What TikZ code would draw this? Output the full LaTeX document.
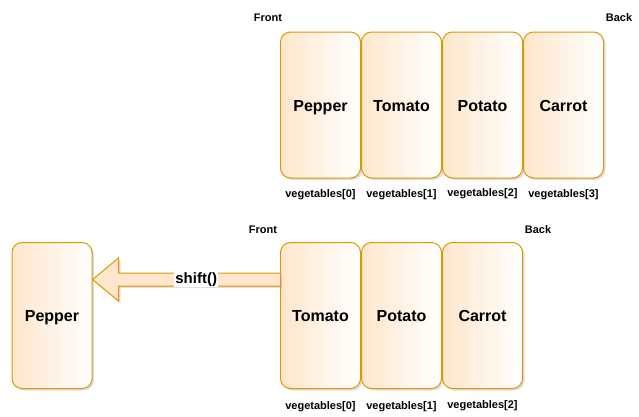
\documentclass[tikz,border=0pt]{standalone}
\usepackage{fontspec}
\setmainfont{Liberation Sans}
\usetikzlibrary{shadows,calc}
\definecolor{boxfill}{RGB}{255,230,204}
\definecolor{boxline}{RGB}{215,155,0}
\tikzset{
  veg/.style={draw=boxline, line width=1pt, rounded corners=10pt,
    left color=boxfill, right color=white,
    minimum width=80pt, minimum height=146pt, inner sep=0pt,
    text height=12pt, text depth=0pt,
    font=\fontsize{16}{19}\selectfont\bfseries,
    drop shadow={opacity=0.25, shadow xshift=2pt, shadow yshift=-2pt}},
  lab/.style={font=\fontsize{11}{13}\selectfont\bfseries, inner sep=1pt},
  arrowbody/.style={draw=boxline, line width=1pt, fill=boxfill,
    drop shadow={opacity=0.25, shadow xshift=2pt, shadow yshift=-2pt}},
  arrlab/.style={fill=white, inner sep=1pt, font=\fontsize{15}{17}\selectfont\bfseries}
}
\begin{document}
\begin{tikzpicture}[x=1pt,y=-1pt]
\useasboundingbox (0,0) rectangle (639,416);
% top row
\node[veg] (a0) at (320.5,105) {Pepper};
\node[veg] (a1) at (401.5,105) {Tomato};
\node[veg] (a2) at (482.5,105) {Potato};
\node[veg] (a3) at (563.5,105) {Carrot};
\node[lab] (af) at (268,18) {Front};
\node[lab] (ab) at (619,18) {Back};
\node[lab] (al0) at (320.5,195) {vegetables[0]};
\node[lab] (al1) at (401.5,195) {vegetables[1]};
\node[lab] (al2) at (482.5,194) {vegetables[2]};
\node[lab] (al3) at (563.5,195) {vegetables[3]};
% bottom row
\node[veg] (b0) at (320.5,315.5) {Tomato};
\node[veg] (b1) at (401.5,315.5) {Potato};
\node[veg] (b2) at (482.5,315.5) {Carrot};
\node[veg] (p) at (52,315.5) {Pepper};
\node[lab] (bf) at (263,230) {Front};
\node[lab] (bb) at (538,230) {Back};
\node[lab] (bl0) at (320.5,407) {vegetables[0]};
\node[lab] (bl1) at (401.5,407) {vegetables[1]};
\node[lab] (bl2) at (482.5,406) {vegetables[2]};
% shift arrow
\coordinate (s) at (b0.west |- 0,279.5);
\coordinate (t) at (p.east |- 0,279.5);
\path[arrowbody] ($(s)+(0,-6.5)$) -- ($(t)+(26,-6.5)$) -- ($(t)+(26,-21.5)$) -- (t)
  -- ($(t)+(26,21.5)$) -- ($(t)+(26,6.5)$) -- ($(s)+(0,6.5)$);
\node[arrlab] (sl) at ($(s)!0.447!(t)$) {shift()};
\end{tikzpicture}
\end{document}
